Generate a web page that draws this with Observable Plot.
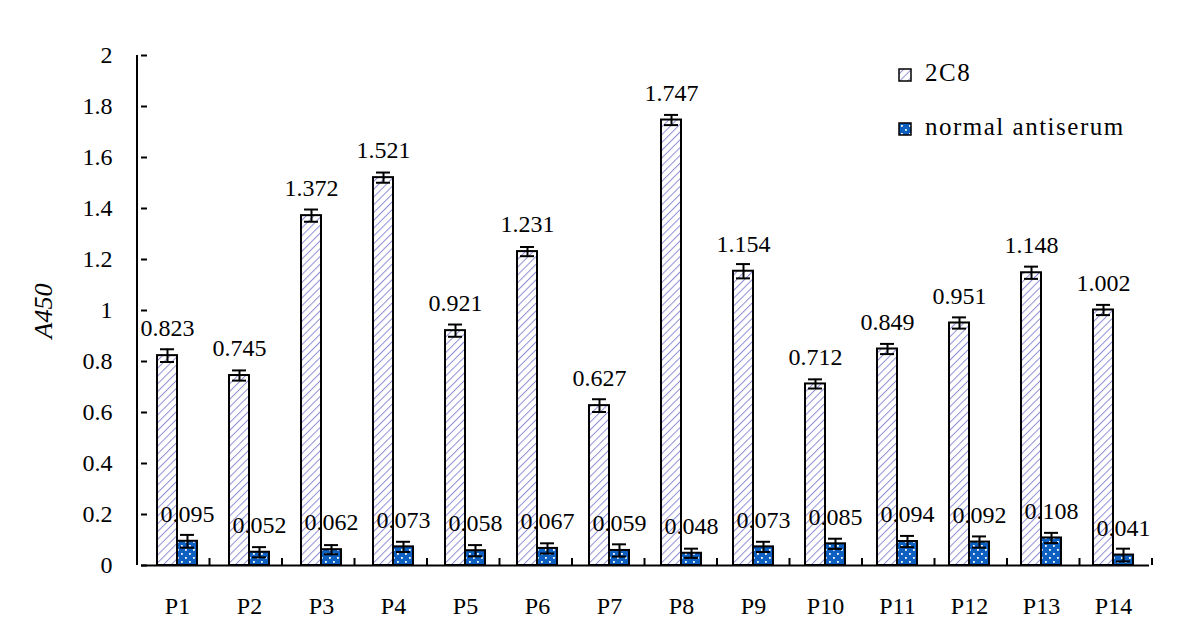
<!DOCTYPE html>
<html><head><meta charset="utf-8">
<script src="https://cdn.jsdelivr.net/npm/d3@7"></script>
<script src="https://cdn.jsdelivr.net/npm/@observablehq/plot@0.6"></script>
<style>
html,body{margin:0;padding:0;background:#fff;}
#chart{position:relative;width:1200px;height:636px;}
</style></head><body>
<svg width="0" height="0" style="position:absolute">
<defs>
<pattern id="hatch" patternUnits="userSpaceOnUse" width="5.5" height="5.5" patternTransform="rotate(45)">
<rect width="5.5" height="5.5" fill="#fff"/>
<line x1="0" y1="0" x2="0" y2="5.5" stroke="#8f8fd6" stroke-width="2"/>
</pattern>
<pattern id="dots" patternUnits="userSpaceOnUse" width="8" height="8">
<rect width="8" height="8" fill="#0d5fc0"/>
<rect x="1" y="1" width="1.8" height="1.8" fill="#fff"/>
<rect x="5" y="5" width="1.8" height="1.8" fill="#fff"/>
</pattern>
</defs></svg>
<div id="chart"></div>
<script>
const categories = ["P1","P2","P3","P4","P5","P6","P7","P8","P9","P10","P11","P12","P13","P14"];
const seriesNames = ["2C8", "normal antiserum"];
const values2C8 = [0.823,0.745,1.372,1.521,0.921,1.231,0.627,1.747,1.154,0.712,0.849,0.951,1.148,1.002];
const err2C8 = [0.025,0.02,0.024,0.02,0.024,0.018,0.025,0.02,0.028,0.018,0.02,0.022,0.024,0.02];
const valuesNormal = [0.095,0.052,0.062,0.073,0.058,0.067,0.059,0.048,0.073,0.085,0.094,0.092,0.108,0.041];
const errNormal = [0.025,0.02,0.018,0.02,0.022,0.02,0.024,0.018,0.02,0.02,0.022,0.022,0.02,0.025];
const yTicks = [0,0.2,0.4,0.6,0.8,1,1.2,1.4,1.6,1.8,2];
const yLabel = "A450";

const rows = [];
categories.forEach((c, i) => {
  rows.push({cat: c, series: seriesNames[0], value: values2C8[i], err: err2C8[i]});
  rows.push({cat: c, series: seriesNames[1], value: valuesNormal[i], err: errNormal[i]});
});
const rowsA = rows.filter(d => d.series === seriesNames[0]);
const rowsB = rows.filter(d => d.series === seriesNames[1]);

const font = "'Liberation Serif', 'Times New Roman', serif";
const ML = 137, MR = 48, MT = 55, MB = 71, W = 1200, H = 636;

const chart = Plot.plot({
  width: W, height: H, marginLeft: ML, marginRight: MR, marginTop: MT, marginBottom: MB,
  style: {fontFamily: font, fontSize: "24px", background: "#fff", color: "#000", overflow: "visible"},
  fx: {domain: categories, padding: 0, label: null},
  x: {domain: seriesNames, paddingInner: 0, paddingOuter: 0.726, axis: null},
  y: {domain: [0, 2], label: null},
  marks: [
    Plot.axisFx({anchor: "bottom", tickSize: 0, tickPadding: 31, fontSize: 24, label: null}),
    Plot.axisY(yTicks, {tickSize: -6, tickPadding: 35, strokeWidth: 2, tickFormat: d3.format("~g"), fontSize: 24, label: null}),
    Plot.barY(rowsA, {fx: "cat", x: "series", y: "value", fill: "url(#hatch)", stroke: "#000", strokeWidth: 2}),
    Plot.barY(rowsB, {fx: "cat", x: "series", y: "value", fill: "url(#dots)", stroke: "#000", strokeWidth: 2}),
    Plot.ruleX(rows, {fx: "cat", x: "series", y1: d => d.value - d.err, y2: d => d.value + d.err, stroke: "#000", strokeWidth: 2}),
    Plot.tickY(rows, {fx: "cat", x: "series", y: d => d.value + d.err, inset: 3, stroke: "#000", strokeWidth: 2}),
    Plot.tickY(rows, {fx: "cat", x: "series", y: d => d.value - d.err, inset: 3, stroke: "#000", strokeWidth: 2}),
    Plot.text(rows, {fx: "cat", x: "series", y: "value", text: d => d3.format(".3f")(d.value), dy: -27, fontSize: 24, fill: "#000"}),
    Plot.ruleY([0], {stroke: "#000", strokeWidth: 2})
  ]
});
document.getElementById("chart").appendChild(chart);

const svg = d3.select(chart);
const ys = chart.scale("y");
const y0 = ys.apply(0), y2 = ys.apply(2);
// y axis line
svg.append("line").attr("x1", ML).attr("x2", ML).attr("y1", y2).attr("y2", y0)
  .attr("stroke", "#000").attr("stroke-width", 2);
// x axis boundary ticks
const bw = (W - ML - MR) / categories.length;
categories.forEach((c, i) => {
  const x = ML + (i + 1) * bw;
  svg.append("line").attr("x1", x).attr("x2", x).attr("y1", y0).attr("y2", y0 - 7)
    .attr("stroke", "#000").attr("stroke-width", 2);
});
// y label
svg.append("text").attr("transform", `translate(46,${(y0 + y2) / 2 + 1}) rotate(-90)`)
  .attr("text-anchor", "middle").attr("dominant-baseline", "middle")
  .attr("font-family", font).attr("font-size", 26).attr("font-style", "italic").text(yLabel);
// legend
const fills = ["url(#hatch)", "url(#dots)"];
const legY = [75, 129];
seriesNames.forEach((s, i) => {
  svg.append("rect").attr("x", 899).attr("y", legY[i] - 6).attr("width", 12).attr("height", 12)
    .attr("fill", fills[i]).attr("stroke", "#000").attr("stroke-width", 1.5);
  svg.append("text").attr("x", 925).attr("y", legY[i]).attr("dominant-baseline", "middle")
    .attr("text-anchor", "start").attr("letter-spacing", 1.5)
    .attr("font-family", font).attr("font-size", 25).text(s);
});
</script>
</body></html>
